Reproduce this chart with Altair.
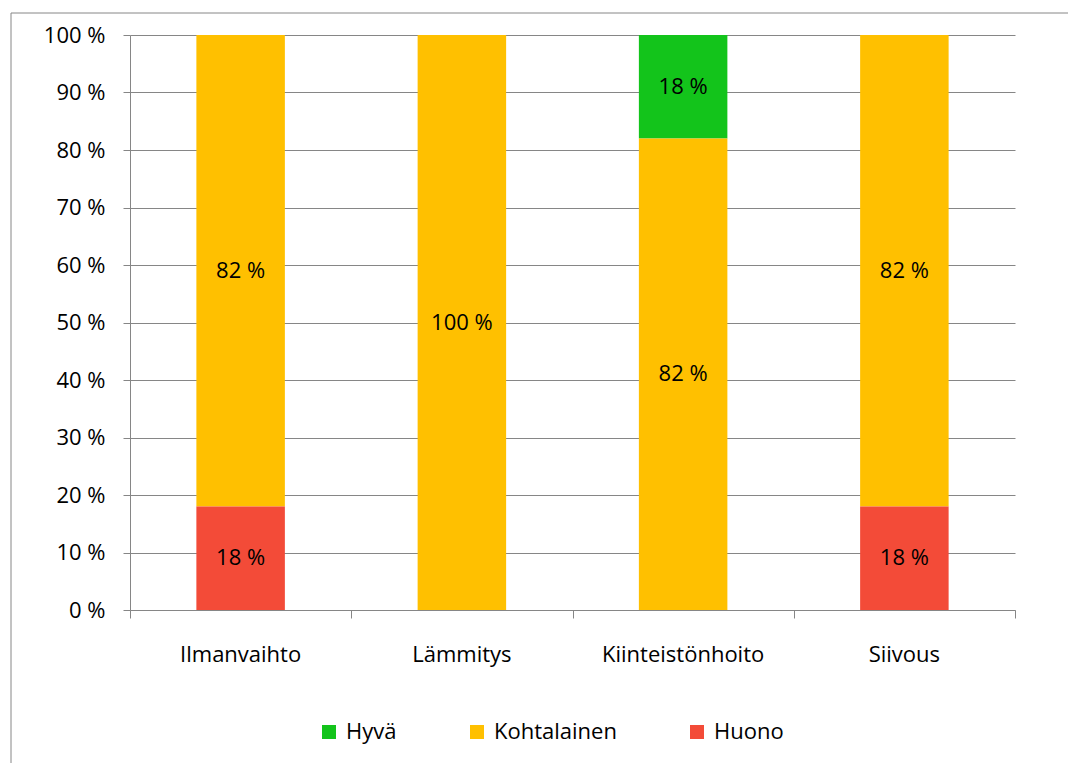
import altair as alt
import pandas as pd

categories = ["Ilmanvaihto", "Lämmitys", "Kiinteistönhoito", "Siivous"]
series = ["Hyvä", "Kohtalainen", "Huono"]
hyva = [0, 0, 18, 0]
kohtalainen = [82, 100, 82, 82]
huono = [18, 0, 0, 18]
colors = ["#13C41B", "#FFC000", "#F34B38"]
y_ticks = [0, 10, 20, 30, 40, 50, 60, 70, 80, 90, 100]

rows = []
stack_order = {"Huono": 0, "Kohtalainen": 1, "Hyvä": 2}
for i, c in enumerate(categories):
    for s, vals in zip(series, [hyva, kohtalainen, huono]):
        if vals[i] > 0:
            rows.append({"idx": i, "cat": c, "series": s, "value": vals[i], "ord": stack_order[s]})
df = pd.DataFrame(rows)
cat_df = pd.DataFrame({"idx": list(range(len(categories))), "cat": categories})

FONT = "Open Sans"
FS = 22
GRAY = "#868686"
W, H = 885, 575

xscale = alt.Scale(domain=[0, 4], nice=False, zero=False)

base = alt.Chart(df).transform_stack(
    stack="value", groupby=["idx"], as_=["v0", "v1"], sort=[alt.SortField("ord", order="ascending")]
).transform_calculate(
    x0="datum.idx + 0.3", x1="datum.idx + 0.7", mid="(datum.v0 + datum.v1) / 2", xm="datum.idx + 0.5",
    lbl="datum.value + ' %'"
)

bars = base.mark_rect().encode(
    x=alt.X("x0:Q", scale=xscale, axis=alt.Axis(values=[0, 1, 2, 3, 4], labels=False, tickSize=8,
                                                  tickColor=GRAY, domainColor=GRAY, grid=False, title=None)),
    x2="x1:Q",
    y=alt.Y("v0:Q", scale=alt.Scale(domain=[0, 100], nice=False),
            axis=alt.Axis(values=y_ticks, labelExpr="datum.value + ' %'", grid=True, gridColor=GRAY,
                          tickSize=7, tickColor=GRAY, domainColor=GRAY, labelPadding=18,
                          labelFontSize=FS, labelFont=FONT, labelColor="#000000", title=None)),
    y2="v1:Q",
    color=alt.Color("series:N", scale=alt.Scale(domain=series, range=colors),
                    legend=alt.Legend(orient="none", legendX=188, legendY=686, direction="horizontal",
                                      symbolType="square", symbolSize=196, symbolStrokeWidth=0,
                                      columnPadding=69, labelFontSize=FS, labelFont=FONT,
                                      labelColor="#000000", labelOffset=6, title=None, padding=0)),
)

labels = base.mark_text(font=FONT, fontSize=FS, color="#000000", baseline="middle", align="center").encode(
    x=alt.X("xm:Q", scale=xscale),
    y=alt.Y("mid:Q"),
    text="lbl:N",
)

cat_labels = alt.Chart(cat_df).transform_calculate(xm="datum.idx + 0.5").mark_text(
    font=FONT, fontSize=FS, color="#000000", baseline="middle", align="center"
).encode(
    x=alt.X("xm:Q", scale=xscale),
    y=alt.value(H + 45),
    text="cat:N",
)

border = alt.Chart(pd.DataFrame({"a": [0]})).mark_rect(
    fillOpacity=0, stroke=GRAY, strokeWidth=1
).encode(
    x=alt.value(-119), y=alt.value(-22), x2=alt.value(1100), y2=alt.value(900)
)

chart = alt.layer(border, bars, labels, cat_labels).properties(
    width=W, height=H,
    autosize=alt.AutoSizeParams(type="none"),
    padding={"left": 122, "top": 27, "right": 1060 - 122 - W, "bottom": 755 - 27 - H},
).configure_view(stroke=None).configure_axis(labelFont=FONT)

chart.save("out.html", embed_options={"renderer": "svg", "actions": False})
